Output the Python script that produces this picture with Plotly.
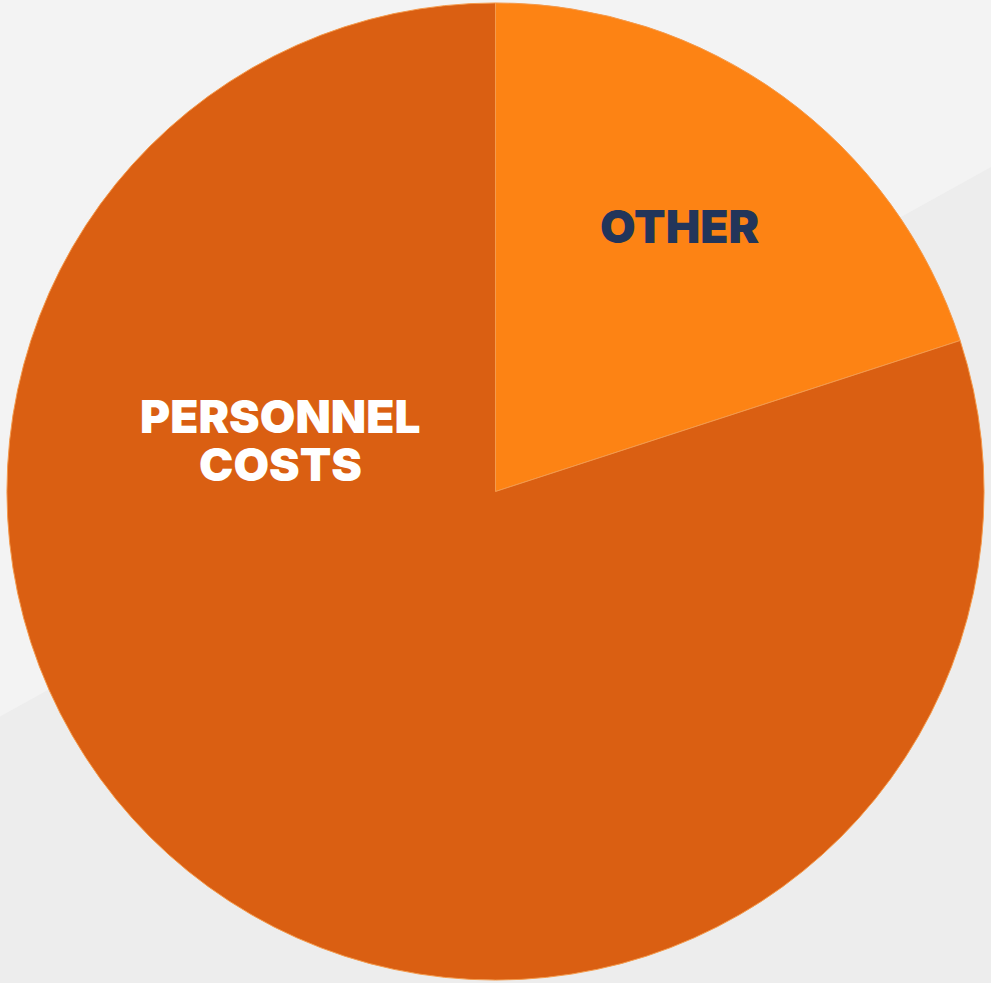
import plotly.graph_objects as go

# Cost breakdown (share of total spending, %)
categories = ["OTHER", "PERSONNEL COSTS"]
shares = [20, 80]
slice_colors = ["#FD8314", "#DA5F12"]

# Slice labels: one text line per entry, with its colour and paper position
label_lines = ["OTHER", "PERSONNEL", "COSTS"]
label_colors = ["#22355A", "#FFFFFF", "#FFFFFF"]
label_x = [0.686, 0.283, 0.283]
label_y = [0.770, 0.5763, 0.528]

fig = go.Figure(
    go.Pie(
        labels=categories,
        values=shares,
        sort=False,
        direction="clockwise",
        rotation=0,
        textinfo="none",
        hoverinfo="label+percent",
        marker=dict(colors=slice_colors, line=dict(color="#F49A4C", width=1)),
        domain=dict(x=[0.003, 0.997], y=[0.003, 0.997]),
        showlegend=False,
    )
)

# Two-tone backdrop split by a shallow diagonal
fig.add_shape(
    type="path",
    xref="paper", yref="paper",
    path="M 0 0 L 0 0.271 L 1 0.83 L 1 0 Z",
    fillcolor="#EDEDED", line=dict(width=0), layer="below",
)

for txt, col, x, y in zip(label_lines, label_colors, label_x, label_y):
    fig.add_annotation(
        text=txt, x=x, y=y, xref="paper", yref="paper",
        xanchor="center", yanchor="middle",
        showarrow=False, align="center",
        font=dict(family="Inter", size=46, color=col, weight=900),
    )

fig.update_layout(
    width=991, height=983,
    margin=dict(l=0, r=0, t=0, b=0),
    paper_bgcolor="#F3F3F3",
    plot_bgcolor="#F3F3F3",
)

fig.write_html("out.html")
